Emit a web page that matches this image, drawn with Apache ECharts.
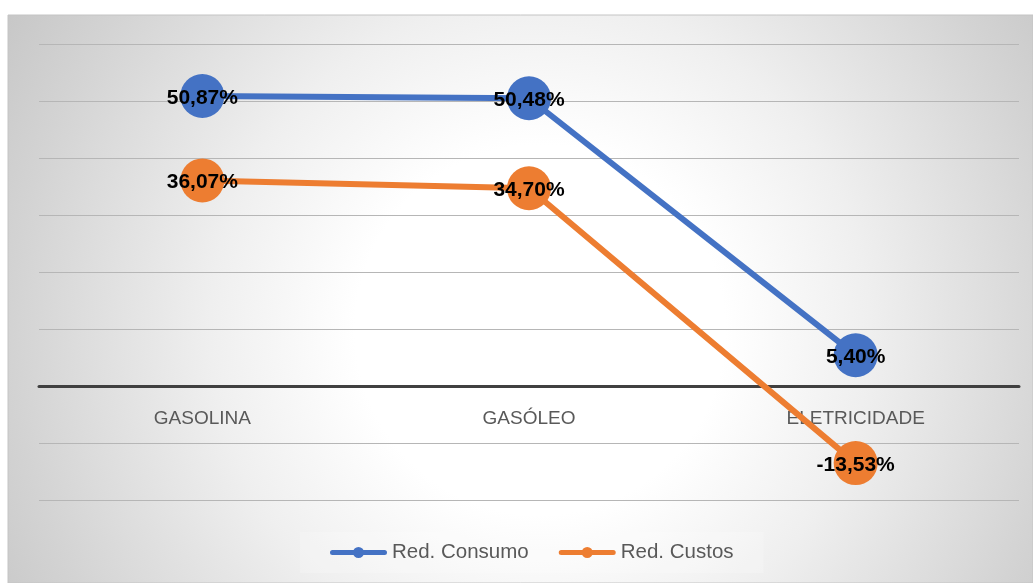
<!DOCTYPE html>
<html>
<head>
<meta charset="utf-8">
<script src="https://cdn.jsdelivr.net/npm/echarts@6/dist/echarts.min.js"></script>
<style>html,body{margin:0;padding:0;background:#fff;}#c{width:1033px;height:583px;}</style>
</head>
<body>
<div id="c"></div>
<script>
const categories = ['GASOLINA', 'GASÓLEO', 'ELETRICIDADE'];
const redConsumo = [50.87, 50.48, 5.40];
const redCustos = [36.07, 34.70, -13.53];
const seriesNames = ['Red. Consumo', 'Red. Custos'];

const chart = echarts.init(document.getElementById('c'));
const fmt = p => p.value.toFixed(2).replace('.', ',') + '%';
const labelStyle = {
  show: true, position: 'inside', offset: [0, 2], formatter: fmt,
  color: '#000', fontWeight: 'bold', fontSize: 21, fontFamily: 'Liberation Sans'
};
const legendIcon = 'path://M2.5,3.5 L54.5,3.5 A2.5,2.5 0 0 1 54.5,8.5 L2.5,8.5 A2.5,2.5 0 0 1 2.5,3.5 Z M23,6 A5.5,5.5 0 1 1 34,6 A5.5,5.5 0 1 1 23,6 Z';
chart.setOption({
  animation: false,
  backgroundColor: '#ffffff',
  graphic: {
    elements: [{
      type: 'rect', z: -10, silent: true,
      shape: { x: 8, y: 15, width: 1025, height: 568 },
      style: {
        stroke: '#c4c4c4', lineWidth: 1,
        fill: {
          type: 'radial', x: 540, y: 330, r: 660, global: true,
          colorStops: [
            { offset: 0, color: '#ffffff' },
            { offset: 0.28, color: '#ffffff' },
            { offset: 0.5, color: '#efefef' },
            { offset: 0.8, color: '#d3d3d3' },
            { offset: 1, color: '#c2c2c2' }
          ]
        }
      }
    }]
  },
  grid: { left: 39, right: 14, top: 44, bottom: 83 },
  legend: {
    data: seriesNames,
    left: 300, top: 532,
    padding: [10, 30, 10, 30],
    backgroundColor: 'rgba(255,255,255,0.2)',
    icon: legendIcon,
    itemWidth: 57, itemHeight: 12, itemGap: 30,
    textStyle: { color: '#595959', fontSize: 20.5, fontFamily: 'Liberation Sans' }
  },
  xAxis: {
    type: 'category', data: categories, boundaryGap: true,
    axisLine: { onZero: false, lineStyle: { color: '#404040', width: 3 } },
    offset: -114,
    axisTick: { show: false },
    axisLabel: { color: '#595959', fontSize: 19, fontFamily: 'Liberation Sans', margin: 23 },
    z: 1
  },
  yAxis: {
    type: 'value', min: -20, max: 60, interval: 10,
    axisLabel: { show: false }, axisLine: { show: false }, axisTick: { show: false },
    splitLine: { lineStyle: { color: '#b6b6b6', width: 1 } }
  },
  series: [
    {
      name: seriesNames[0], type: 'line', data: redConsumo,
      symbol: 'circle', symbolSize: 44,
      lineStyle: { color: '#4472C4', width: 6 },
      itemStyle: { color: '#4472C4' },
      label: labelStyle, z: 3
    },
    {
      name: seriesNames[1], type: 'line', data: redCustos,
      symbol: 'circle', symbolSize: 44,
      lineStyle: { color: '#ED7D31', width: 6 },
      itemStyle: { color: '#ED7D31' },
      label: labelStyle, z: 3
    }
  ]
});
</script>
</body>
</html>
